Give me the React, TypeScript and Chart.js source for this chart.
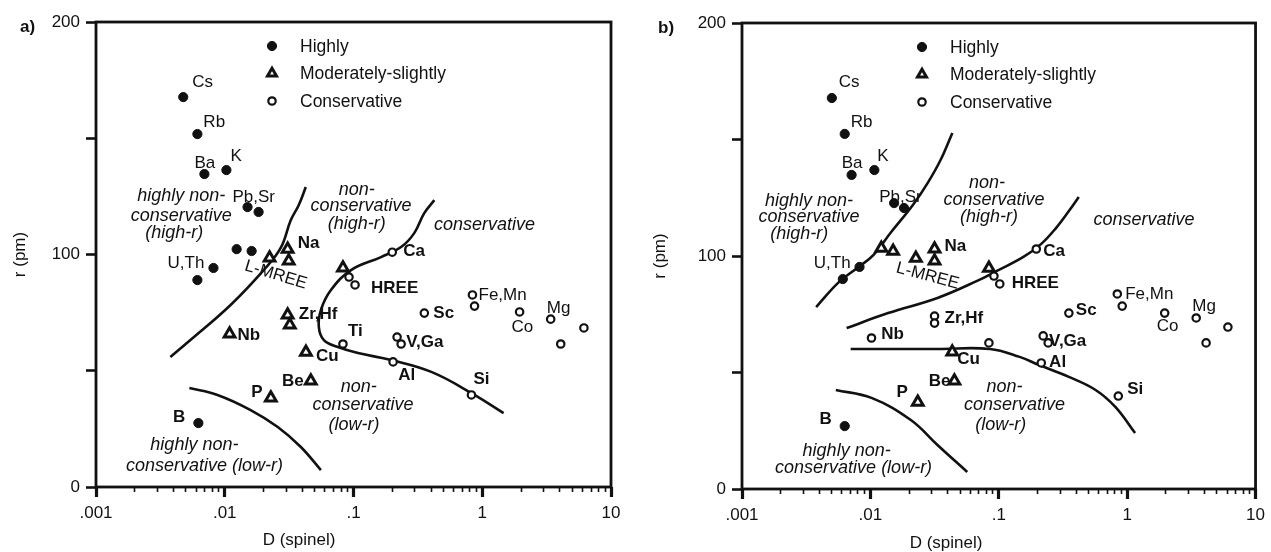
import React, { useEffect, useRef } from "react";
import { Chart, registerables } from "chart.js";

Chart.register(...registerables);

const FONT = '"Liberation Sans", Arial, Helvetica, sans-serif';
const INK = "#111111";

// ---------- shared axis / legend text ----------
const seriesNames = ["Highly", "Moderately-slightly", "Conservative"];
const xDecades = [0.001, 0.01, 0.1, 1, 10];
const xDecadeLabels = [".001", ".01", ".1", "1", "10"];
const xMinorMultipliers = [2, 3, 4, 5, 6, 7, 8, 9];
const yTickValues = [0, 50, 100, 150, 200];
const yTickLabels = ["0", "", "100", "", "200"];
const xTitle = "D (spinel)";
const yTitle = "r (pm)";

// ---------- panel a ----------
const aHighlyD = [0.00476, 0.00613, 0.00695, 0.0103, 0.01503, 0.01832, 0.01237, 0.01617, 0.00817, 0.00613, 0.00624];
const aHighlyR = [167.7, 151.8, 134.6, 136.3, 120.4, 118.3, 102.3, 101.5, 94.2, 89.0, 27.5];
const aModD = [0.0223, 0.0308, 0.0314, 0.0828, 0.0308, 0.032, 0.0109, 0.0427, 0.0466, 0.0228];
const aModR = [98.5, 102.3, 97.2, 94.2, 74.0, 69.7, 65.8, 58.0, 45.6, 38.3];
const aConsD = [0.2, 0.0923, 0.1028, 0.0828, 0.203, 0.355, 0.218, 0.2344, 0.824, 0.839, 0.871, 1.95, 3.4, 4.07, 6.16];
const aConsR = [101, 90.3, 86.9, 61.5, 53.8, 74.8, 64.5, 61.5, 39.6, 82.6, 77.8, 75.3, 72.2, 61.5, 68.4];

const aCurveHighD = [0.00378, 0.00541, 0.0111, 0.02006, 0.0272, 0.0326, 0.0376, 0.0426];
const aCurveHighR = [55.9, 63.2, 78.3, 93.3, 102.8, 114.8, 121.3, 129];
const aCurveMidD = [0.4246, 0.3545, 0.2963, 0.2344, 0.1637, 0.0957, 0.0668, 0.0558, 0.0538, 0.0589, 0.0757, 0.1084, 0.196, 0.402, 0.824, 1.465];
const aCurveMidR = [123.4, 117.8, 109.2, 103.2, 98.9, 93.3, 84.7, 76.1, 68.8, 63.2, 60.2, 57.6, 54.6, 49.5, 40.4, 31.8];
const aCurveLowD = [0.00531, 0.00878, 0.0159, 0.0258, 0.039, 0.0558];
const aCurveLowR = [42.6, 39.6, 33.1, 25.8, 17.2, 7.3];

// text, D, r, align, kind (n normal, b bold, i italic)
const aLabels: [string, number, number, string, string][] = [
  ["Cs", 0.0056, 174.2, "left", "n"],
  ["Rb", 0.00682, 157.0, "left", "n"],
  ["Ba", 0.00581, 139.4, "left", "n"],
  ["K", 0.0111, 142.4, "left", "n"],
  ["Pb,Sr", 0.01148, 124.7, "left", "n"],
  ["U,Th", 0.00695, 96.3, "right", "n"],
  ["Na", 0.0369, 104.9, "left", "b"],
  ["Zr,Hf", 0.0376, 74.4, "left", "b"],
  ["Nb", 0.01256, 65.4, "left", "b"],
  ["Cu", 0.0511, 56.3, "left", "b"],
  ["Be", 0.0411, 45.6, "right", "b"],
  ["P", 0.01968, 40.9, "right", "b"],
  ["B", 0.00494, 30.1, "right", "b"],
  ["Ca", 0.243, 101.5, "left", "b"],
  ["HREE", 0.1368, 85.6, "left", "b"],
  ["Ti", 0.0906, 67.1, "left", "b"],
  ["Sc", 0.417, 74.8, "left", "b"],
  ["V,Ga", 0.2565, 62.4, "left", "b"],
  ["Al", 0.2223, 48.2, "left", "b"],
  ["Si", 0.855, 46.5, "left", "b"],
  ["Fe,Mn", 0.935, 82.6, "left", "n"],
  ["Mg", 3.17, 77.0, "left", "n"],
  ["Co", 1.69, 68.8, "left", "n"],
  ["highly non-", 0.0046, 125.2, "center", "i"],
  ["conservative", 0.0046, 116.6, "center", "i"],
  ["(high-r)", 0.00406, 109.2, "center", "i"],
  ["non-", 0.106, 127.7, "center", "i"],
  ["conservative", 0.1143, 120.9, "center", "i"],
  ["(high-r)", 0.106, 113.1, "center", "i"],
  ["conservative", 1.04, 112.7, "center", "i"],
  ["non-", 0.11, 43.0, "center", "i"],
  ["conservative", 0.1186, 35.3, "center", "i"],
  ["(low-r)", 0.1009, 26.7, "center", "i"],
  ["highly non-", 0.00581, 18.1, "center", "i"],
  ["conservative (low-r)", 0.00695, 9.0, "center", "i"],
];
const aRotLabel: [string, number, number, number] = ["L-MREE", 0.0249, 91.2, 17];

// ---------- panel b ----------
const bHighlyD = [0.00501, 0.00631, 0.00714, 0.01074, 0.0153, 0.01828, 0.00823, 0.0061, 0.00631];
const bHighlyR = [167.8, 152.4, 134.8, 136.9, 122.7, 120.6, 95.3, 90.1, 27.0];
const bModD = [0.01217, 0.01503, 0.0226, 0.0316, 0.0316, 0.0838, 0.0434, 0.0451, 0.0234];
const bModR = [103.4, 102.1, 99.1, 103.0, 97.9, 94.8, 58.8, 46.4, 37.3];
const bConsD = [0.0316, 0.0316, 0.0102, 0.0917, 0.1018, 0.196, 0.0838, 0.2143, 0.2218, 0.2427, 0.3516, 0.853, 0.838, 0.915, 1.96, 3.45, 4.12, 6.09];
const bConsR = [74.2, 71.2, 64.8, 91.4, 88.0, 103.0, 62.7, 54.1, 65.7, 62.7, 75.5, 39.9, 83.7, 78.5, 75.5, 73.4, 62.7, 69.5];

const bCurveHighD = [0.00378, 0.00568, 0.00809, 0.01054, 0.01452, 0.02143, 0.0279, 0.0352, 0.0435];
const bCurveHighR = [78.1, 88.8, 95.3, 100.4, 110.3, 121.9, 131.3, 141.2, 152.8];
const bCurveMidD = [0.00653, 0.01374, 0.0333, 0.0678, 0.0966, 0.1556, 0.2143, 0.279, 0.3516, 0.42];
const bCurveMidR = [69.1, 75.5, 82.0, 89.3, 93.6, 99.6, 105.2, 112.0, 119.3, 125.3];
const bCurveLowMidD = [0.00702, 0.0333, 0.0853, 0.1453, 0.2065, 0.3516, 0.5675, 0.809, 1.153];
const bCurveLowMidR = [60.1, 60.1, 60.1, 56.7, 53.2, 48.1, 42.5, 35.2, 24.0];
const bCurveLowD = [0.00538, 0.0102, 0.02065, 0.0333, 0.0568];
const bCurveLowR = [42.5, 39.1, 29.6, 18.9, 7.3];

const bLabels: [string, number, number, string, string][] = [
  ["Cs", 0.00568, 174.7, "left", "n"],
  ["Rb", 0.00702, 157.5, "left", "n"],
  ["Ba", 0.00598, 139.9, "left", "n"],
  ["K", 0.01132, 142.9, "left", "n"],
  ["Pb,Sr", 0.01172, 125.3, "left", "n"],
  ["U,Th", 0.00702, 97.0, "right", "n"],
  ["Na", 0.0378, 104.3, "left", "b"],
  ["Zr,Hf", 0.0378, 73.4, "left", "b"],
  ["Nb", 0.01216, 66.5, "left", "b"],
  ["Cu", 0.0475, 55.8, "left", "b"],
  ["Be", 0.042, 46.4, "right", "b"],
  ["P", 0.0196, 41.6, "right", "b"],
  ["B", 0.00501, 30.0, "right", "b"],
  ["Ca", 0.2218, 102.1, "left", "b"],
  ["HREE", 0.126, 88.4, "left", "b"],
  ["Sc", 0.398, 76.8, "left", "b"],
  ["V,Ga", 0.2466, 63.5, "left", "b"],
  ["Al", 0.2466, 54.5, "left", "b"],
  ["Si", 1.0, 42.9, "left", "b"],
  ["Fe,Mn", 0.966, 83.7, "left", "n"],
  ["Mg", 3.22, 78.5, "left", "n"],
  ["Co", 1.7, 70.0, "left", "n"],
  ["highly non-", 0.00333, 123.6, "center", "i"],
  ["conservative", 0.00333, 116.7, "center", "i"],
  ["(high-r)", 0.00279, 109.4, "center", "i"],
  ["non-", 0.0809, 131.3, "center", "i"],
  ["conservative", 0.0917, 124.0, "center", "i"],
  ["(high-r)", 0.0838, 116.7, "center", "i"],
  ["conservative", 1.352, 115.5, "center", "i"],
  ["non-", 0.111, 43.8, "center", "i"],
  ["conservative", 0.1327, 36.1, "center", "i"],
  ["(low-r)", 0.1035, 27.5, "center", "i"],
  ["highly non-", 0.00653, 16.3, "center", "i"],
  ["conservative (low-r)", 0.0074, 9.0, "center", "i"],
];
const bRotLabel: [string, number, number, number] = ["L-MREE", 0.0279, 91.4, 15];

// ---------- panel definitions (layout) ----------
type PanelDef = {
  tag: string;
  left: number;
  w: number;
  padTop: number;
  padRight: number;
  yWidth: number;
  xHeight: number;
  yTitlePad: number;
  tagX: number;
  tagY: number;
  titleX: number;
  titleY: number;
  legendX: number;
  highly: [number[], number[]];
  mod: [number[], number[]];
  cons: [number[], number[]];
  curves: [number[], number[]][];
  labels: [string, number, number, string, string][];
  rot: [string, number, number, number];
};

const panelA: PanelDef = {
  tag: "a)", left: 0, w: 635, padTop: 22, padRight: 24, yWidth: 96, xHeight: 65, yTitlePad: 10,
  tagX: 20, tagY: 27, titleX: 299, titleY: 540, legendX: 176,
  highly: [aHighlyD, aHighlyR], mod: [aModD, aModR], cons: [aConsD, aConsR],
  curves: [[aCurveHighD, aCurveHighR], [aCurveMidD, aCurveMidR], [aCurveLowD, aCurveLowR]],
  labels: aLabels, rot: aRotLabel,
};
const panelB: PanelDef = {
  tag: "b)", left: 635, w: 636, padTop: 23, padRight: 9, yWidth: 107, xHeight: 63, yTitlePad: 15,
  tagX: 23, tagY: 28, titleX: 311, titleY: 543, legendX: 180,
  highly: [bHighlyD, bHighlyR], mod: [bModD, bModR], cons: [bConsD, bConsR],
  curves: [[bCurveHighD, bCurveHighR], [bCurveMidD, bCurveMidR], [bCurveLowMidD, bCurveLowMidR], [bCurveLowD, bCurveLowR]],
  labels: bLabels, rot: bRotLabel,
};

const fontFor = (kind: string) =>
  kind === "b" ? `bold 17px ${FONT}` : kind === "i" ? `italic 18px ${FONT}` : `17px ${FONT}`;

function drawMarker(ctx: CanvasRenderingContext2D, style: string, x: number, y: number, r: number, fill: string, stroke: string, lw: number) {
  ctx.beginPath();
  if (style === "triangle") {
    const a = (2 * Math.PI) / 3;
    ctx.moveTo(x, y - r);
    ctx.lineTo(x + Math.sin(a) * r, y - Math.cos(a) * r);
    ctx.lineTo(x + Math.sin(2 * a) * r, y - Math.cos(2 * a) * r);
    ctx.closePath();
  } else {
    ctx.arc(x, y, r, 0, Math.PI * 2);
  }
  ctx.fillStyle = fill;
  ctx.fill();
  if (lw > 0) {
    ctx.lineWidth = lw;
    ctx.strokeStyle = stroke;
    ctx.stroke();
  }
}

function makeChart(canvas: HTMLCanvasElement, p: PanelDef) {
  const pts = (d: number[], r: number[]) => d.map((x, i) => ({ x, y: r[i] }));
  const isDecade = (v: number) => Math.abs(Math.log10(v) - Math.round(Math.log10(v))) < 1e-6;
  const decadeLabel = (v: number) => {
    const i = xDecades.findIndex((d) => Math.abs(d - v) / d < 1e-6);
    return i >= 0 ? xDecadeLabels[i] : "";
  };
  const xTickValues: number[] = [];
  xDecades.forEach((d, i) => {
    xTickValues.push(d);
    if (i < xDecades.length - 1) xMinorMultipliers.forEach((m) => xTickValues.push(d * m));
  });

  const datasets: any[] = [
    {
      label: seriesNames[0], data: pts(p.highly[0], p.highly[1]),
      pointStyle: "circle", pointRadius: 4.6, backgroundColor: INK, borderColor: INK, borderWidth: 1,
    },
    {
      label: seriesNames[1], data: pts(p.mod[0], p.mod[1]),
      pointStyle: "triangle", pointRadius: 6.2, backgroundColor: "#ffffff", borderColor: INK, borderWidth: 3,
    },
    {
      label: seriesNames[2], data: pts(p.cons[0], p.cons[1]),
      pointStyle: "circle", pointRadius: 3.7, backgroundColor: "#ffffff", borderColor: INK, borderWidth: 2.2,
    },
    ...p.curves.map(([d, r]) => ({
      label: "", data: pts(d, r), showLine: true, borderColor: INK, borderWidth: 2.6,
      pointRadius: 0, tension: 0.4, fill: false,
    })),
  ];

  const overlay = {
    id: "overlay",
    afterDatasetsDraw(chart: any) {
      const { ctx, chartArea: ca, scales } = chart;
      const xs = scales.x;
      const ys = scales.y;
      ctx.save();
      // frame
      ctx.strokeStyle = INK;
      ctx.lineWidth = 2.8;
      ctx.strokeRect(ca.left, ca.top, ca.right - ca.left, ca.bottom - ca.top);

      ctx.fillStyle = INK;
      ctx.textBaseline = "middle";
      for (const [t, d, r, align, kind] of p.labels) {
        ctx.font = fontFor(kind);
        ctx.textAlign = align as CanvasTextAlign;
        ctx.fillText(t, xs.getPixelForValue(d), ys.getPixelForValue(r));
      }
      // rotated label
      const [rt, rd, rr, deg] = p.rot;
      ctx.save();
      ctx.translate(xs.getPixelForValue(rd), ys.getPixelForValue(rr));
      ctx.rotate((deg * Math.PI) / 180);
      ctx.font = `17px ${FONT}`;
      ctx.textAlign = "center";
      ctx.fillText(rt, 0, 0);
      ctx.restore();

      // legend from the three point datasets
      for (let i = 0; i < 3; i++) {
        const ds = chart.data.datasets[i];
        const y = ca.top + 24 + i * 27.5;
        const r = ds.pointStyle === "triangle" ? ds.pointRadius - 1 : ds.pointRadius;
        drawMarker(ctx, ds.pointStyle, ca.left + p.legendX, y, r, ds.backgroundColor, ds.borderColor, ds.borderWidth);
        ctx.fillStyle = INK;
        ctx.font = `17.5px ${FONT}`;
        ctx.textAlign = "left";
        ctx.fillText(ds.label, ca.left + p.legendX + 28, y + 1);
      }

      // panel tag and x-axis title
      ctx.font = `bold 17px ${FONT}`;
      ctx.textAlign = "left";
      ctx.fillText(p.tag, p.tagX, p.tagY);
      ctx.font = `17px ${FONT}`;
      ctx.textAlign = "center";
      ctx.fillText(xTitle, p.titleX, p.titleY);
      ctx.restore();
    },
  };

  return new Chart(canvas, {
    type: "scatter",
    data: { datasets },
    options: {
      responsive: false,
      animation: false,
      devicePixelRatio: 1,
      events: [],
      layout: { padding: { left: 0, top: p.padTop, right: p.padRight, bottom: 0 } },
      plugins: { legend: { display: false }, tooltip: { enabled: false } },
      scales: {
        x: {
          type: "logarithmic",
          position: "bottom",
          min: 0.001,
          max: 10,
          afterBuildTicks: (s: any) => {
            s.ticks = xTickValues.map((v) => ({ value: v }));
          },
          afterFit: (s: any) => {
            s.height = p.xHeight;
          },
          ticks: {
            autoSkip: false,
            maxRotation: 0,
            minRotation: 0,
            padding: 6,
            color: INK,
            font: { family: FONT, size: 17 },
            callback: (v: any) => decadeLabel(Number(v)),
          },
          grid: {
            display: true,
            drawOnChartArea: false,
            drawTicks: true,
            tickLength: 10,
            tickColor: INK,
            tickWidth: (c: any) => (c.tick && isDecade(c.tick.value) ? 3.2 : 1.6),
            tickBorderDash: (c: any) => (c.tick && isDecade(c.tick.value) ? [] : [5, 30]),
          },
          border: { display: false },
        },
        y: {
          type: "linear",
          min: 0,
          max: 200,
          afterBuildTicks: (s: any) => {
            s.ticks = yTickValues.map((v) => ({ value: v }));
          },
          afterFit: (s: any) => {
            s.width = p.yWidth;
          },
          ticks: {
            padding: 6,
            color: INK,
            font: { family: FONT, size: 17 },
            callback: (v: any) => {
              const i = yTickValues.indexOf(Number(v));
              return i >= 0 ? yTickLabels[i] : "";
            },
          },
          grid: {
            display: true,
            drawOnChartArea: false,
            drawTicks: true,
            tickLength: 10,
            tickColor: INK,
            tickWidth: 2.6,
          },
          border: { display: false },
          title: {
            display: true,
            text: yTitle,
            color: INK,
            font: { family: FONT, size: 17 },
            padding: { top: p.yTitlePad, bottom: 0 },
          },
        },
      },
    },
    plugins: [overlay],
  } as any);
}

function Panel({ p }: { p: PanelDef }) {
  const ref = useRef<HTMLCanvasElement>(null);
  useEffect(() => {
    if (!ref.current) return;
    const chart = makeChart(ref.current, p);
    return () => chart.destroy();
  }, [p]);
  return (
    <canvas
      ref={ref}
      width={p.w}
      height={552}
      style={{ position: "absolute", left: p.left, top: 0, width: p.w, height: 552, display: "block" }}
    />
  );
}

export default function App() {
  return (
    <div style={{ position: "fixed", left: 0, top: 0, width: 1271, height: 552, background: "#ffffff", overflow: "hidden" }}>
      <Panel p={panelA} />
      <Panel p={panelB} />
    </div>
  );
}
